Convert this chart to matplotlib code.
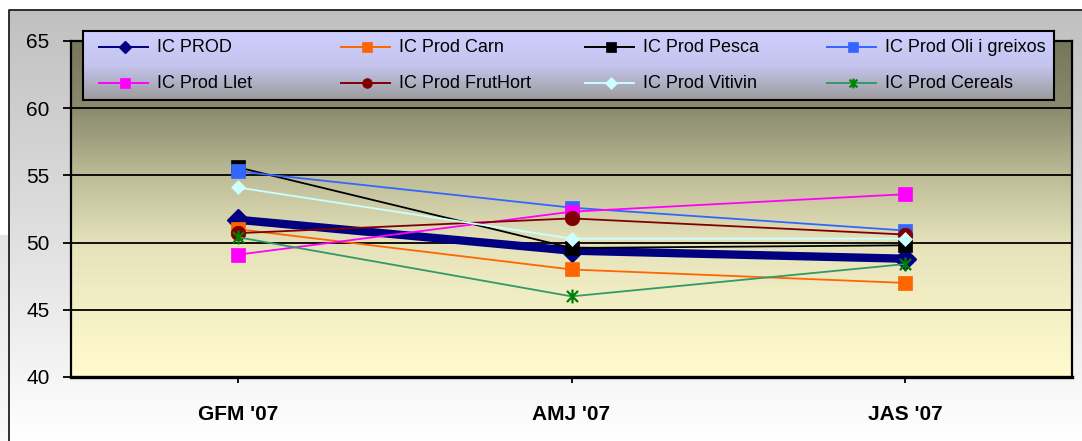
import numpy as np
import matplotlib
matplotlib.use("Agg")
import matplotlib.pyplot as plt
from matplotlib.colors import LinearSegmentedColormap
from matplotlib.path import Path
from matplotlib.lines import Line2D

# ---------------- data ----------------
categories = ["GFM '07", "AMJ '07", "JAS '07"]
series_names = ["IC PROD", "IC Prod Carn", "IC Prod Pesca", "IC Prod Oli i greixos",
                "IC Prod Llet", "IC Prod FrutHort", "IC Prod Vitivin", "IC Prod Cereals"]
ic_prod = [51.7, 49.4, 48.8]
prod_carn = [51.0, 48.0, 47.0]
prod_pesca = [55.6, 49.6, 49.8]
prod_oli = [55.3, 52.6, 50.9]
prod_llet = [49.1, 52.3, 53.6]
prod_fruthort = [50.7, 51.8, 50.6]
prod_vitivin = [54.1, 50.3, 50.3]
prod_cereals = [50.4, 46.0, 48.4]
y_ticks = [40, 45, 50, 55, 60, 65]

all_series = [ic_prod, prod_carn, prod_pesca, prod_oli,
              prod_llet, prod_fruthort, prod_vitivin, prod_cereals]

# ---------------- styles ----------------
star_path = Path([(0, -1), (0, 1), (-0.8, -0.8), (0.8, 0.8), (-0.8, 0.8), (0.8, -0.8)],
                 [Path.MOVETO, Path.LINETO] * 3)
styles = [
    dict(color="#000080", lw=6, marker="D", ms=11, mfc="#000080", mec="#000080", mew=1),
    dict(color="#FF6600", lw=1.3, marker="s", ms=10.5, mfc="#FF6600", mec="#FF6600", mew=0.5),
    dict(color="#000000", lw=1.3, marker="s", ms=10.5, mfc="#000000", mec="#000000", mew=0.5),
    dict(color="#3366FF", lw=1.3, marker="s", ms=10.5, mfc="#3366FF", mec="#3366FF", mew=0.5),
    dict(color="#FF00FF", lw=1.3, marker="s", ms=10.5, mfc="#FF00FF", mec="#FF00FF", mew=0.5),
    dict(color="#800000", lw=1.3, marker="o", ms=10.5, mfc="#800000", mec="#800000", mew=0.5),
    dict(color="#CCFFFF", lw=1.3, marker="D", ms=7.5, mfc="#CCFFFF", mec="#CCFFFF", mew=0.5),
    dict(color="#339966", lw=1.3, marker=star_path, ms=10, mfc="none", mec="#008000", mew=1.6),
]

W, H = 1082, 441
def fx(p): return p / W
def fy(p): return 1 - p / H

fig = plt.figure(figsize=(W / 100, H / 100), dpi=100)

# ---------------- outer background ----------------
bg = fig.add_axes([0, 0, 1, 1], zorder=-10)
bg.set_xlim(0, W); bg.set_ylim(H, 0); bg.axis("off")
cm_out = LinearSegmentedColormap.from_list("out", ["#c0c0c0", "#dedede", "#ffffff"])
grad = np.linspace(0, 1, 256).reshape(-1, 1)
bg.imshow(grad, cmap=cm_out, extent=[9, W, H, 10], aspect="auto", zorder=0)
cm_strip = LinearSegmentedColormap.from_list("strip", ["#e4e4e4", "#fafafa"])
bg.imshow(grad, cmap=cm_strip, extent=[0, 9, H, 235], aspect="auto", zorder=0)
bg.plot([9, 9, W], [H, 10, 10], color="#202020", lw=1.3, zorder=2)

# ---------------- main axes ----------------
ax = fig.add_axes([fx(71), fy(377), fx(1072) - fx(71), fy(41) - fy(377)], zorder=1)
ax.set_xlim(-0.5, 2.5)
ax.set_ylim(40, 65)
cm_plot = LinearSegmentedColormap.from_list(
    "plot", [(0, "#76765a"), (0.2, "#8a8a6e"), (0.4, "#bcbc97"),
             (0.6, "#e5e2ba"), (0.8, "#f4f0c6"), (1.0, "#fffbcd")])
ax.imshow(grad, cmap=cm_plot, extent=[-0.5, 2.5, 40, 65], aspect="auto", zorder=0)

for yv in y_ticks[1:-1]:
    ax.axhline(yv, color="black", lw=1.3, zorder=1)

x = np.arange(len(categories))
for i, (vals, st) in enumerate(zip(all_series, styles)):
    ax.plot(x, vals, color=st["color"], lw=st["lw"], marker=st["marker"],
            ms=st["ms"], mfc=st["mfc"], mec=st["mec"], mew=st["mew"],
            zorder=3 + i, label=series_names[i])

ax.set_yticks(y_ticks)
ax.set_xticks(x)
ax.set_xticklabels(categories, fontfamily=["Liberation Sans Narrow", "Liberation Sans"],
                   fontweight="bold", fontsize=15)
for lab in ax.get_yticklabels():
    lab.set_fontfamily("Liberation Sans")
    lab.set_fontsize(15)
ax.tick_params(axis="y", length=5.5, width=1.3, pad=10, colors="black")
ax.tick_params(axis="x", length=4.5, width=1.3, pad=16, colors="black")
for s in ["left", "bottom", "top", "right"]:
    ax.spines[s].set_color("black")
    ax.spines[s].set_linewidth(1.6)
ax.spines["bottom"].set_linewidth(2.4)

# ---------------- legend ----------------
lx0, lx1, ly0, ly1 = 83, 1054, 31, 100
lg = fig.add_axes([fx(lx0), fy(ly1), fx(lx1) - fx(lx0), fy(ly0) - fy(ly1)], zorder=2)
lg.set_xlim(lx0, lx1); lg.set_ylim(ly1, ly0)
cm_leg = LinearSegmentedColormap.from_list("leg", ["#cfcfff", "#c4c4ee", "#9b9b9b"])
lg.imshow(grad, cmap=cm_leg, extent=[lx0, lx1, ly1, ly0], aspect="auto", zorder=0)
lg.set_xticks([]); lg.set_yticks([])
for s in lg.spines.values():
    s.set_color("black"); s.set_linewidth(1.5)

col_x = [99, 341, 585, 827]
row_y = [47, 83]
for i, (name, st) in enumerate(zip(series_names, styles)):
    cx = col_x[i % 4]; cy = row_y[i // 4]
    lg.add_line(Line2D([cx, cx + 49], [cy, cy], color=st["color"], lw=1.4, zorder=2))
    ms_leg = 7 if st["marker"] != "D" else 6
    lg.add_line(Line2D([cx + 26], [cy], marker=st["marker"], ms=ms_leg,
                       mfc=st["mfc"], mec=st["mec"], mew=st["mew"], lw=0, zorder=3))
    lg.text(cx + 58, cy + 0.5, name, fontsize=13, fontfamily="Liberation Sans",
            va="center", ha="left", color="black", zorder=4)

fig.savefig("out.png", dpi=100)
